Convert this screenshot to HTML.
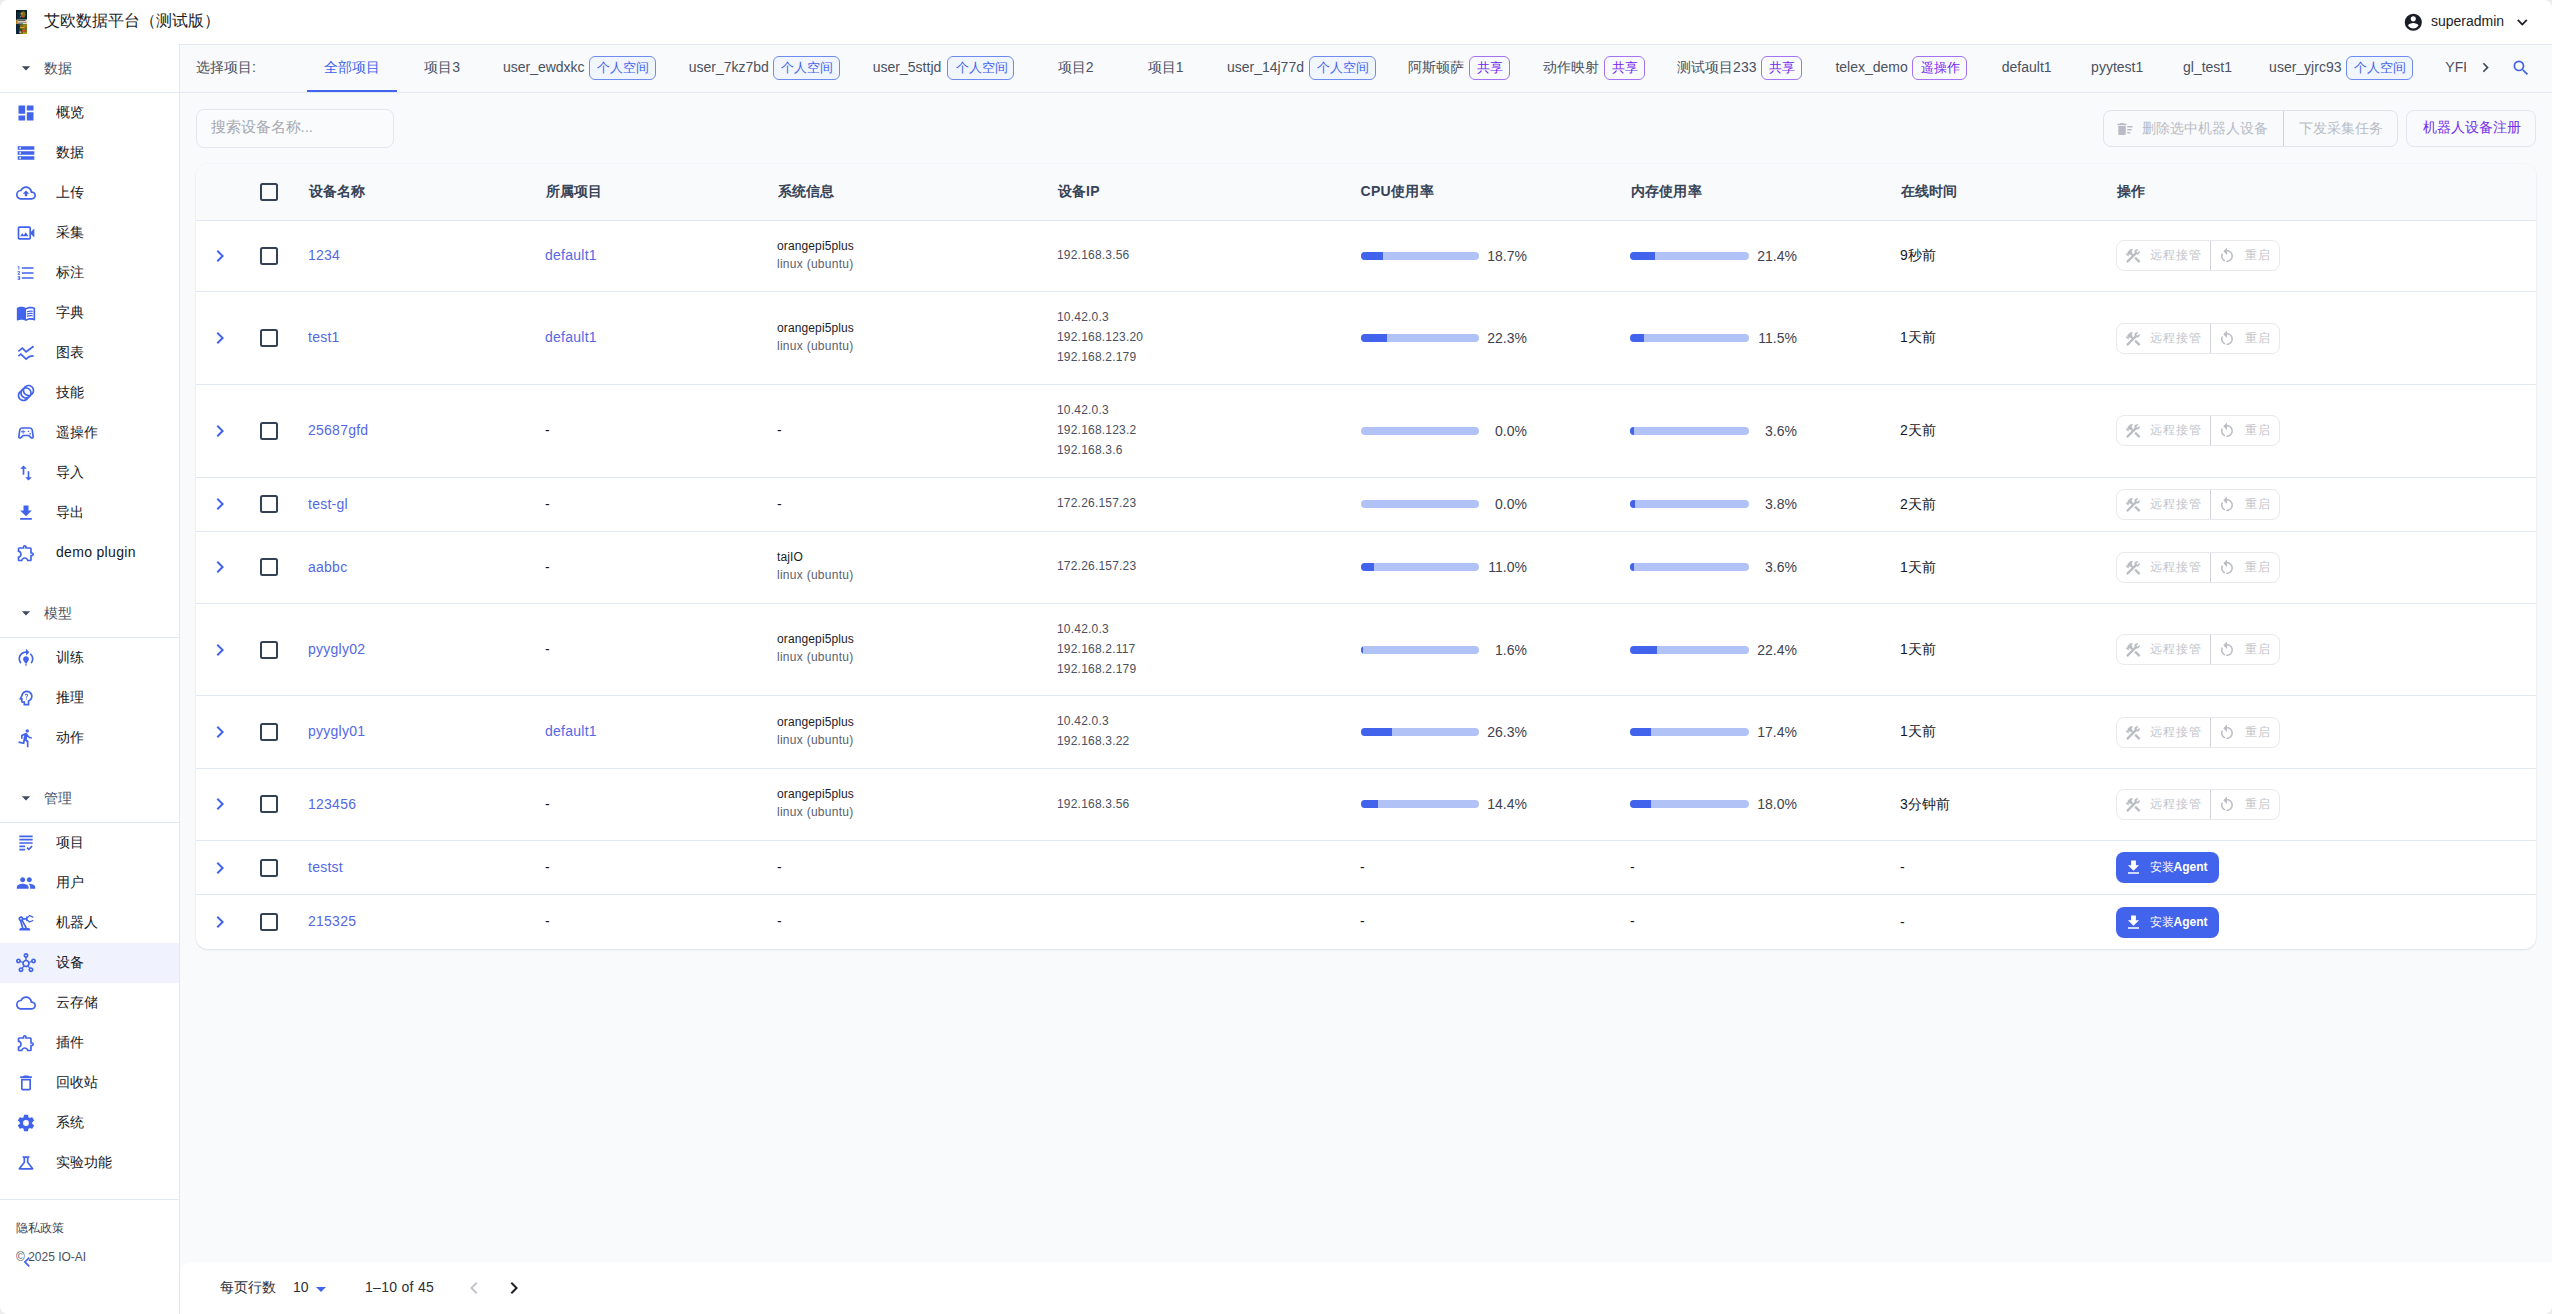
<!DOCTYPE html><html lang="zh"><head><meta charset="utf-8"><title>艾欧数据平台（测试版）</title><style>
*{box-sizing:border-box}
html,body{margin:0;padding:0}
html{width:2552px;height:1314px;overflow:hidden;background:#fff}
body{width:2552px;height:1314px;overflow:hidden;position:relative;background:#fff;font-family:"Liberation Sans",sans-serif;font-size:14px;color:#141826;-webkit-font-smoothing:antialiased}
.ic{display:block;flex:none}
.abs{position:absolute}
#top{position:absolute;left:0;top:0;width:2552px;height:44px;background:#fff}
#title{position:absolute;left:44px;top:0;height:44px;line-height:42px;font-size:16px;color:#1b1d27;white-space:nowrap}
#user{position:absolute;left:2431px;top:0;line-height:42px;font-size:14px;color:#1b1d27}
#side{position:absolute;left:0;top:44px;width:180px;height:1270px;background:#fff;border-right:1px solid #e2e8f0}
.grp{position:absolute;left:0;width:179px;height:49px;border-bottom:1px solid #e2e8f0;color:#475367;font-size:14px}
.grp span{position:absolute;left:44px;top:0;line-height:49px}
.grp svg{position:absolute;left:16px;top:14px}
.it{position:absolute;left:0;width:179px;height:40px;font-size:14px;color:#141826}
.it span{position:absolute;left:56px;top:0;line-height:38px;white-space:nowrap}
.it svg{position:absolute;left:16px;top:10px}
.it.on{background:#f0f2fe}
#main{position:absolute;left:179px;top:44px;width:2373px;height:1270px;background:#f8fafc;border-left:1px solid #e2e8f0;border-top:1px solid #e2e8f0}
#tabs{position:absolute;left:180px;top:45px;width:2372px;height:48px;border-bottom:1px solid #e2e8f0;font-size:14px;color:#4b5160;white-space:nowrap}
.tab{position:absolute;top:-1px;height:47px;line-height:45px;display:flex;align-items:center}
.tab.on{color:#4263eb}
.chip{display:inline-block;height:24px;line-height:22px;border:1px solid #6e8cf0;border-radius:6px;padding:0 0 0 1.5px;text-align:center;white-space:nowrap;overflow:hidden;font-size:13px;line-height:21px;color:#4263eb;background:#f0f5fe}
.chip.v{border-color:#a373f1;color:#7527ee;background:transparent}
#search{position:absolute;left:196px;top:109px;width:198px;height:39px;border:1px solid #e1e6ef;border-radius:8px;background:#fafbfc;color:#a6aab4;font-size:15px;line-height:34px;padding-left:13.5px;white-space:nowrap}
.bgrp{position:absolute;display:flex;border:1px solid #e0e3ea;border-radius:8px;color:#b9bcc6;overflow:hidden;white-space:nowrap}
.bgrp>div{display:flex;align-items:center;height:100%}
.bgrp>div+div{border-left:1px solid #cfd2da}
#reg{position:absolute;left:2406px;top:110px;width:130px;height:37px;border:1px solid #e2e6f0;border-radius:8px;color:#7430ec;font-weight:500;font-size:14px;line-height:33px;text-align:center;white-space:nowrap;padding-left:1.5px}
#card{position:absolute;left:196px;top:164px;width:2340px;height:785px;background:#fff;border-radius:12px;box-shadow:0 1px 2px rgba(15,23,42,.10),0 0 0 1px rgba(15,23,42,.015);overflow:hidden}
#thead{position:absolute;left:0;top:0;width:2340px;height:57px;background:#f8fafc;border-bottom:1px solid #e2e8f0;font-weight:bold;font-size:14px;color:#374357}
#thead span{position:absolute;top:0;line-height:54px;white-space:nowrap;letter-spacing:.3px}
.row{position:absolute;left:0;width:2340px;border-bottom:1px solid #e2e8f0;font-size:14px}
.row:last-child{border-bottom:none}
.cell{position:absolute;top:0;height:100%;display:flex;flex-direction:column;justify-content:center;white-space:nowrap;padding-bottom:2px}
.row.last .cell{padding-bottom:4px}
.cb{position:absolute;width:18px;height:18px;border:2px solid #334155;border-radius:2.5px;background:transparent}
.lnk{color:#5468e6;letter-spacing:.25px}
.sm{letter-spacing:.12px;font-size:12px;line-height:18px;color:#1b1d27}
.sm2{letter-spacing:.27px;font-size:12px;line-height:19px;color:#5a5f6c}
.ip{letter-spacing:.2px;font-size:12px;line-height:20px;color:#4b5060}
.bar{position:absolute;height:8px;width:119px;border-radius:4px;background:#b1c2f6;overflow:hidden}
.bar i{display:block;height:8px;background:#4263eb}
.pct{position:absolute;text-align:right;font-size:14px;color:#3d4251}
.inst{position:absolute;left:1920px;width:103px;height:31px;border-radius:8px;background:#4263eb;color:#fff;font-weight:bold;font-size:12px;display:flex;align-items:center;white-space:nowrap}
#foot{position:absolute;left:180px;top:1262px;width:2372px;height:52px;background:#fff;border-top-left-radius:12px;font-size:14px;color:#2c2f3a}
#frame{position:absolute;left:0;top:0;width:2552px;height:1314px;border-radius:8px;box-shadow:0 0 0 14px #ececec;pointer-events:none;z-index:50}
#foot span{position:absolute;top:0;line-height:51px;white-space:nowrap}
</style></head><body>
<div id="top">
<div class="abs" style="left:16px;top:10px;width:11px;height:24px;overflow:hidden;background:#08222f"><svg style="display:block;filter:blur(.45px)" width="11" height="24" viewBox="0 0 11 24"><rect width="11" height="24" fill="#08222f"/><g><rect x="-1" y="-1" width="4" height="10" fill="#06141c"/><rect x="1" y="2" width="3" height="7" fill="#0b2c45"/><ellipse cx="7.1" cy="4.4" rx="2.5" ry="3.1" fill="#7a6d1e"/><rect x="4.7" y="2.9" width="2" height="1.3" fill="#e89a28"/><rect x="6" y="5.8" width="1.3" height="1.4" fill="#e2381f"/><rect x="4.2" y="6" width=".8" height="1.6" fill="#7a9aa0"/><rect x="1.3" y="9.5" width="10" height="4.7" fill="#e6dabd"/><rect x="-.2" y="9.7" width="1.5" height="4.5" fill="#b07a20"/><rect x="2" y="10" width="7.5" height=".9" fill="#47545a"/><rect x="2.4" y="11.9" width="8" height=".7" fill="#6d7573"/><rect x="2" y="13.2" width="5" height=".7" fill="#59656a"/><rect x="-1" y="14.3" width="4.8" height="10.5" fill="#0a2638"/><rect x="3.8" y="14.4" width="8" height="10.5" fill="#7c6e18"/><rect x="7" y="14.3" width="4.5" height="2.4" fill="#94861e"/><rect x="4" y="17" width="4.6" height="1.1" fill="#f09a28"/><rect x="3" y="18.6" width="3.4" height="3" fill="#3a4a2a"/><rect x="6.4" y="20" width="2.2" height="2" fill="#e8402e"/><rect x="3.5" y="21.4" width="1.2" height="1.5" fill="#e8e8de"/><rect x="7" y="22.3" width="4.5" height="2" fill="#b39c20"/></g></svg></div>
<div id="title">艾欧数据平台（测试版）</div>
<svg class="ic" viewBox="0 0 24 24" width="20.57" height="20.57" style="position:absolute;left:2402.5px;top:12px"><path fill="#1b1d27" d="M12 19.2c-2.5 0-4.71-1.28-6-3.2.03-2 4-3.1 6-3.1s5.97 1.1 6 3.1a7.23 7.23 0 0 1-6 3.2M12 5a3 3 0 0 1 3 3 3 3 0 0 1-3 3 3 3 0 0 1-3-3 3 3 0 0 1 3-3m0-3A10 10 0 0 0 2 12a10 10 0 0 0 10 10 10 10 0 0 0 10-10c0-5.53-4.5-10-10-10"/></svg>
<div id="user">superadmin</div>
<svg class="ic" viewBox="0 0 24 24" width="20.57" height="20.57" style="position:absolute;left:2511.7px;top:11.6px"><path fill="#1b1d27" d="M7.41 8.58 12 13.17l4.59-4.59L18 10l-6 6-6-6z"/></svg>
</div>
<div id="side">
<div class="grp" style="top:0px"><svg class="ic" viewBox="0 0 24 24" width="20" height="20" style=""><path fill="#3f4b5f" d="m7 10 5 5 5-5z"/></svg><span>数据</span></div>
<div class="it" style="top:49px"><svg class="ic" viewBox="0 0 24 24" width="20" height="20" style=""><path fill="#4263eb" d="M13 3v6h8V3m-8 18h8V11h-8M3 21h8v-6H3m0-2h8V3H3z"/></svg><span>概览</span></div>
<div class="it" style="top:89px"><svg class="ic" viewBox="0 0 24 24" width="20" height="20" style=""><path fill="#4263eb" d="M2 20h20v-4H2v4zm2-3h2v2H4v-2zM2 4v4h20V4H2zm4 3H4V5h2v2zm-4 7h20v-4H2v4zm2-3h2v2H4v-2z"/></svg><span>数据</span></div>
<div class="it" style="top:129px"><svg class="ic" viewBox="0 0 24 24" width="20" height="20" style=""><path fill="#4263eb" d="M19.35 10.04C18.67 6.59 15.64 4 12 4 9.11 4 6.6 5.64 5.35 8.04 2.34 8.36 0 10.91 0 14c0 3.31 2.69 6 6 6h13c2.76 0 5-2.24 5-5 0-2.64-2.05-4.78-4.65-4.96zM19 18H6c-2.21 0-4-1.79-4-4 0-2.05 1.53-3.76 3.56-3.97l1.07-.11.5-.95C8.08 7.14 9.94 6 12 6c2.62 0 4.88 1.86 5.39 4.43l.3 1.5 1.53.11c1.56.1 2.78 1.41 2.78 2.96 0 1.65-1.35 3-3 3zM8 13h2.55v3h2.9v-3H16l-4-4z"/></svg><span>上传</span></div>
<div class="it" style="top:169px"><svg class="ic" viewBox="0 0 24 24" width="20" height="20" style=""><path fill="#4263eb" d="M18 10.48V6c0-1.1-.9-2-2-2H4c-1.1 0-2 .9-2 2v12c0 1.1.9 2 2 2h12c1.1 0 2-.9 2-2v-4.48l4 3.98v-11l-4 3.98zM16 9.69V18H4V6h12v3.69zM11.67 11l-2.5 3.72L7.5 12 5 16h10l-3.33-5z"/></svg><span>采集</span></div>
<div class="it" style="top:209px"><svg class="ic" viewBox="0 0 24 24" width="20" height="20" style=""><path fill="#4263eb" d="M7 13v-2h14v2zm0 6v-2h14v2zM7 7V5h14v2zM3 8V5H2V4h2v4zm-1 9v-1h3v4H2v-1h2v-.5H3v-1h1V17zm2.25-7a.75.75 0 0 1 .75.75c0 .2-.08.39-.21.52L3.12 13H5v1H2v-.92L4 11H2v-1z"/></svg><span>标注</span></div>
<div class="it" style="top:249px"><svg class="ic" viewBox="0 0 24 24" width="20" height="20" style=""><path fill="#4263eb" d="M12 21.5c-1.35-.85-3.8-1.5-5.5-1.5-1.65 0-3.35.3-4.75 1.05-.1.05-.15.05-.25.05-.25 0-.5-.25-.5-.5V6c.6-.45 1.25-.75 2-1 1.11-.35 2.33-.5 3.5-.5 1.95 0 4.05.4 5.5 1.5 1.45-1.1 3.55-1.5 5.5-1.5 1.17 0 2.39.15 3.5.5.75.25 1.4.55 2 1v14.6c0 .25-.25.5-.5.5-.1 0-.15 0-.25-.05-1.4-.75-3.1-1.05-4.75-1.05-1.7 0-4.15.65-5.5 1.5M12 8v11.5c1.35-.85 3.8-1.5 5.5-1.5 1.2 0 2.4.15 3.5.5V7c-1.1-.35-2.3-.5-3.5-.5-1.7 0-4.15.65-5.5 1.5m1 3.5c1.11-.68 2.6-1 4.5-1 .91 0 1.76.09 2.5.28V9.23c-.87-.15-1.71-.23-2.5-.23q-2.655 0-4.5.84zm4.5.17c-1.71 0-3.21.26-4.5.79v1.69c1.11-.65 2.6-.99 4.5-.99 1.04 0 1.88.08 2.5.24v-1.5c-.87-.16-1.71-.23-2.5-.23m2.5 2.9c-.87-.16-1.71-.24-2.5-.24-1.83 0-3.33.27-4.5.8v1.69c1.11-.66 2.6-.99 4.5-.99 1.04 0 1.88.08 2.5.24z"/></svg><span>字典</span></div>
<div class="it" style="top:289px"><svg class="ic" viewBox="0 0 20 20" width="20" height="20"><g fill="none" stroke="#4263eb" stroke-width="1.7" stroke-linejoin="miter"><path d="M2.3 8.3 L6.4 5.1 L10.1 8.8 L17.6 3.2"/><path d="M2.3 13.2 L4.9 11.2 L10.1 16.1 Q13.5 13.1 15 13.1 L17.6 13.1"/></g></svg><span>图表</span></div>
<div class="it" style="top:329px"><svg class="ic" viewBox="0 0 24 24" width="20" height="20" style=""><path fill="#4263eb" d="M15 2c-2.71 0-5.05 1.54-6.22 3.78-1.28.67-2.34 1.72-3 3C3.54 9.95 2 12.29 2 15c0 3.87 3.13 7 7 7 2.71 0 5.05-1.54 6.22-3.78 1.28-.67 2.34-1.72 3-3C20.46 14.05 22 11.71 22 9c0-3.87-3.13-7-7-7zM9 20c-2.76 0-5-2.24-5-5 0-1.12.37-2.16 1-3 0 3.87 3.13 7 7 7-.84.63-1.88 1-3 1zm3-3c-2.76 0-5-2.24-5-5 0-1.12.37-2.16 1-3 0 3.86 3.13 6.99 7 7-.84.63-1.88 1-3 1zm4.7-3.3c-.53.19-1.1.3-1.7.3-2.76 0-5-2.24-5-5 0-.6.11-1.17.3-1.7.53-.19 1.1-.3 1.7-.3 2.76 0 5 2.24 5 5 0 .6-.11 1.17-.3 1.7zM19 12c0-3.86-3.13-6.99-7-7 .84-.63 1.87-1 3-1 2.76 0 5 2.24 5 5 0 1.12-.37 2.16-1 3z"/></svg><span>技能</span></div>
<div class="it" style="top:369px"><svg class="ic" viewBox="0 0 24 24" width="20" height="20" style=""><path fill="#4263eb" d="M21.58 16.09l-1.09-7.66C20.21 6.46 18.52 5 16.53 5H7.47C5.48 5 3.79 6.46 3.51 8.43l-1.09 7.66C2.2 17.63 3.39 19 4.94 19c.68 0 1.32-.27 1.8-.75L9 16h6l2.25 2.25c.48.48 1.13.75 1.8.75 1.56 0 2.75-1.37 2.53-2.91zm-2.1.72c-.08.09-.21.19-.42.19-.15 0-.29-.06-.39-.16L15.83 14H8.17l-2.84 2.84c-.1.1-.24.16-.39.16-.21 0-.34-.1-.42-.19-.08-.09-.16-.23-.13-.44l1.09-7.66C5.63 7.74 6.48 7 7.47 7h9.06c.99 0 1.84.74 1.98 1.72l1.09 7.66c.03.2-.05.34-.12.43zM9 8H8v2H6v1h2v2h1v-2h2v-1H9zM17 12a1 1 0 1 0 0 2 1 1 0 0 0 0-2zM15 9a1 1 0 1 0 0 2 1 1 0 0 0 0-2z"/></svg><span>遥操作</span></div>
<div class="it" style="top:409px"><svg class="ic" viewBox="0 0 24 24" width="20" height="20" style=""><path fill="#4263eb" d="M9 3 5 7h3v7h2V7h3m3 10v-7h-2v7h-3l4 4 4-4z"/></svg><span>导入</span></div>
<div class="it" style="top:449px"><svg class="ic" viewBox="0 0 24 24" width="20" height="20" style=""><path fill="#4263eb" d="M5 20h14v-2H5m14-9h-4V3H9v6H5l7 7z"/></svg><span>导出</span></div>
<div class="it" style="top:489px"><svg class="ic" viewBox="0 0 24 24" width="20" height="20" style=""><path fill="#4263eb" d="M10.5 4.5c.28 0 .5.22.5.5v2h6v6h2c.28 0 .5.22.5.5s-.22.5-.5.5h-2v6h-2.12c-.68-1.75-2.39-3-4.38-3s-3.7 1.25-4.38 3H4v-2.12c1.75-.68 3-2.39 3-4.38 0-1.99-1.24-3.7-2.99-4.38L4 7h6V5c0-.28.22-.5.5-.5m0-2C9.12 2.5 8 3.62 8 5H4c-1.1 0-1.99.9-1.99 2v3.8h.29c1.49 0 2.7 1.21 2.7 2.7s-1.21 2.7-2.7 2.7H2V20c0 1.1.9 2 2 2h3.8v-.3c0-1.49 1.21-2.7 2.7-2.7s2.7 1.21 2.7 2.7v.3H17c1.1 0 2-.9 2-2v-4c1.38 0 2.5-1.12 2.5-2.5S20.38 11 19 11V7c0-1.1-.9-2-2-2h-4c0-1.38-1.12-2.5-2.5-2.5z"/></svg><span><i style="font-style:normal;letter-spacing:.32px">demo plugin</i></span></div>
<div class="grp" style="top:545px"><svg class="ic" viewBox="0 0 24 24" width="20" height="20" style=""><path fill="#3f4b5f" d="m7 10 5 5 5-5z"/></svg><span>模型</span></div>
<div class="it" style="top:594px"><svg class="ic" viewBox="0 0 24 24" width="20" height="20" style=""><path fill="#4263eb" d="M15.5 13.5c0 2-2.5 3.5-2.5 5h-2c0-1.5-2.5-3-2.5-5 0-1.93 1.57-3.5 3.5-3.5s3.5 1.57 3.5 3.5zM13 19.5h-2V21h2v-1.5zM19 13c0 1.68-.59 3.21-1.58 4.42l1.42 1.42C20.18 17.27 21 15.23 21 13c0-2.74-1.23-5.19-3.16-6.84l-1.42 1.42C17.99 8.86 19 10.82 19 13zM16 5l-4-4v3c-4.97 0-9 4.03-9 9 0 2.23.82 4.27 2.16 5.84l1.42-1.42C5.59 16.21 5 14.68 5 13c0-3.86 3.14-7 7-7v3l4-4z"/></svg><span>训练</span></div>
<div class="it" style="top:634px"><svg class="ic" viewBox="0 0 24 24" width="20" height="20" style=""><path fill="#4263eb" d="M19.94 9.06C19.5 5.73 16.57 3 13 3 9.47 3 6.57 5.61 6.08 9l-1.93 3.48c-.41.66.07 1.52.85 1.52h1v2c0 1.1.9 2 2 2h1v3h7v-4.68c2.62-1.25 4.35-4.08 3.94-7.26zm-5.05 5.57l-.89.42V19h-3v-3H8v-4H6.7l1.33-2.33C8.21 7.06 10.35 5 13 5c2.76 0 5 2.24 5 5 0 2.09-1.29 3.88-3.11 4.63zM12.5 12.54c-.41 0-.74.31-.74.73 0 .41.33.74.74.74.42 0 .73-.33.73-.74 0-.42-.31-.73-.73-.73zM12.5 7c-1.03 0-1.74.67-2 1.45l.96.4c.13-.39.43-.86 1.05-.86.95 0 1.13.89.8 1.36-.32.45-.86.75-1.14 1.26-.23.4-.18.87-.18 1.16h1.06c0-.55.04-.65.13-.82.23-.42.65-.62 1.09-1.27.4-.59.25-1.38-.01-1.8-.31-.49-.9-.88-1.76-.88z"/></svg><span>推理</span></div>
<div class="it" style="top:674px"><svg class="ic" viewBox="0 0 24 24" width="20" height="20" style=""><path fill="#4263eb" d="M13.5 5.5c1.09 0 2-.92 2-2a2 2 0 0 0-2-2c-1.11 0-2 .88-2 2 0 1.08.89 2 2 2M9.89 19.38l1-4.38L13 17v6h2v-7.5l-2.11-2 .61-3A7.3 7.3 0 0 0 19 13v-2c-1.91 0-3.5-1-4.31-2.42l-1-1.58c-.4-.62-1-1-1.69-1-.31 0-.5.08-.81.08L6 8.28V13h2V9.58l1.79-.7L8.19 17l-4.9-1-.4 2z"/></svg><span>动作</span></div>
<div class="grp" style="top:730px"><svg class="ic" viewBox="0 0 24 24" width="20" height="20" style=""><path fill="#3f4b5f" d="m7 10 5 5 5-5z"/></svg><span>管理</span></div>
<div class="it" style="top:779px"><svg class="ic" viewBox="0 0 24 24" width="20" height="20" style=""><path fill="#4263eb" d="M4 7h16v2H4V7zm0 6h16v-2H4v2zm0 4h7v-2H4v2zm0 4h7v-2H4v2zm11.41-2.83L14 16.75l-1.41 1.41L15.41 21 20 16.42 18.58 15l-3.17 3.17zM4 3v2h16V3H4z"/></svg><span>项目</span></div>
<div class="it" style="top:819px"><svg class="ic" viewBox="0 0 24 24" width="20" height="20" style=""><path fill="#4263eb" d="M16 11c1.66 0 2.99-1.34 2.99-3S17.66 5 16 5c-1.66 0-3 1.34-3 3s1.34 3 3 3zm-8 0c1.66 0 2.99-1.34 2.99-3S9.66 5 8 5C6.34 5 5 6.34 5 8s1.34 3 3 3zm0 2c-2.33 0-7 1.17-7 3.5V19h14v-2.5c0-2.33-4.67-3.5-7-3.5zm8 0c-.29 0-.62.02-.97.05 1.16.84 1.97 1.97 1.97 3.45V19h6v-2.5c0-2.33-4.67-3.5-7-3.5z"/></svg><span>用户</span></div>
<div class="it" style="top:859px"><svg class="ic" viewBox="0 0 24 24" width="20" height="20" style=""><path fill="#4263eb" d="M19.93 8.35l-3.6 1.68L14 7.7V6.3l2.33-2.33 3.6 1.68c.38.18.82.01 1-.36.18-.38.01-.82-.36-1l-3.92-1.83c-.38-.18-.83-.1-1.13.2L13.78 4.4c-.18-.24-.46-.4-.78-.4-.55 0-1 .45-1 1v1H8.82C8.4 4.84 7.3 4 6 4 4.34 4 3 5.34 3 7c0 1.1.6 2.05 1.48 2.58L7.08 18H6c-1.1 0-2 .9-2 2v1h13v-1c0-1.1-.9-2-2-2h-1.62L8.41 8.77c.17-.24.31-.49.41-.77H12v1c0 .55.45 1 1 1 .32 0 .6-.16.78-.4l1.74 1.74c.3.3.75.38 1.13.2l3.92-1.83c.38-.18.54-.62.36-1-.18-.37-.62-.54-1-.36zM6 8c-.55 0-1-.45-1-1s.45-1 1-1 1 .45 1 1-.45 1-1 1zm5.11 10H9.17l-2.46-8h.1l4.3 8z"/></svg><span>机器人</span></div>
<div class="it on" style="top:899px"><svg class="ic" viewBox="0 0 24 24" width="20" height="20" style=""><path fill="#4263eb" d="M21 6.5c-1.7 0-3 1.3-3 3v.2l-2 .7c-.6-1.2-1.8-2.1-3.2-2.3V5.9C14 5.6 15 4.4 15 3c0-1.7-1.3-3-3-3S9 1.3 9 3c0 1.4 1 2.6 2.2 2.9v2.2c-1.3.2-2.5 1.1-3.2 2.3l-2-.7v-.2c0-1.7-1.3-3-3-3s-3 1.3-3 3 1.3 3 3 3c1.1 0 2-.6 2.5-1.4l2 .7c-.2 1.3.2 2.7 1.1 3.7l-1.4 1.8Q6.6 17 6 17c-1.7 0-3 1.3-3 3s1.3 3 3 3 3-1.3 3-3q0-1.05-.6-1.8l1.4-1.8c1.4.8 3 .8 4.4 0l1.4 1.8q-.6.75-.6 1.8c0 1.7 1.3 3 3 3s3-1.3 3-3-1.3-3-3-3c-.4 0-.9.1-1.2.3l-1.4-1.8c.9-1 1.3-2.4 1.1-3.7l2-.7c.5.8 1.5 1.4 2.5 1.4 1.7 0 3-1.3 3-3s-1.3-3-3-3m-18 4c-.5 0-1-.4-1-1s.5-1 1-1 1 .4 1 1-.5 1-1 1M6 21c-.6 0-1-.5-1-1s.4-1 1-1 1 .5 1 1-.4 1-1 1m5-18c0-.5.4-1 1-1s1 .5 1 1-.4 1-1 1-1-.5-1-1m1 12c-1.4 0-2.5-1.1-2.5-2.5S10.6 10 12 10s2.5 1.1 2.5 2.5S13.4 15 12 15m6 4c.5 0 1 .5 1 1s-.5 1-1 1-1-.5-1-1 .5-1 1-1m3-8.5c-.5 0-1-.4-1-1s.5-1 1-1 1 .4 1 1-.5 1-1 1"/></svg><span>设备</span></div>
<div class="it" style="top:939px"><svg class="ic" viewBox="0 0 24 24" width="20" height="20" style=""><path fill="#4263eb" d="M12 6c2.62 0 4.88 1.86 5.39 4.43l.3 1.5 1.53.11c1.56.1 2.78 1.41 2.78 2.96 0 1.65-1.35 3-3 3H6c-2.21 0-4-1.79-4-4 0-2.05 1.53-3.76 3.56-3.97l1.07-.11.5-.95C8.08 7.14 9.94 6 12 6m0-2C9.11 4 6.6 5.64 5.35 8.04 2.34 8.36 0 10.91 0 14c0 3.31 2.69 6 6 6h13c2.76 0 5-2.24 5-5 0-2.64-2.05-4.78-4.65-4.96C18.67 6.59 15.64 4 12 4z"/></svg><span>云存储</span></div>
<div class="it" style="top:979px"><svg class="ic" viewBox="0 0 24 24" width="20" height="20" style=""><path fill="#4263eb" d="M10.5 4.5c.28 0 .5.22.5.5v2h6v6h2c.28 0 .5.22.5.5s-.22.5-.5.5h-2v6h-2.12c-.68-1.75-2.39-3-4.38-3s-3.7 1.25-4.38 3H4v-2.12c1.75-.68 3-2.39 3-4.38 0-1.99-1.24-3.7-2.99-4.38L4 7h6V5c0-.28.22-.5.5-.5m0-2C9.12 2.5 8 3.62 8 5H4c-1.1 0-1.99.9-1.99 2v3.8h.29c1.49 0 2.7 1.21 2.7 2.7s-1.21 2.7-2.7 2.7H2V20c0 1.1.9 2 2 2h3.8v-.3c0-1.49 1.21-2.7 2.7-2.7s2.7 1.21 2.7 2.7v.3H17c1.1 0 2-.9 2-2v-4c1.38 0 2.5-1.12 2.5-2.5S20.38 11 19 11V7c0-1.1-.9-2-2-2h-4c0-1.38-1.12-2.5-2.5-2.5z"/></svg><span>插件</span></div>
<div class="it" style="top:1019px"><svg class="ic" viewBox="0 0 24 24" width="20" height="20" style=""><path fill="#4263eb" d="M6 19a2 2 0 0 0 2 2h8a2 2 0 0 0 2-2V7H6zM8 9h8v10H8zm7.5-5-1-1h-5l-1 1H5v2h14V4z"/></svg><span>回收站</span></div>
<div class="it" style="top:1059px"><svg class="ic" viewBox="0 0 24 24" width="20" height="20" style=""><path fill="#4263eb" d="M12 15.5A3.5 3.5 0 0 1 8.5 12 3.5 3.5 0 0 1 12 8.5a3.5 3.5 0 0 1 3.5 3.5 3.5 3.5 0 0 1-3.5 3.5m7.43-2.53c.04-.32.07-.64.07-.97s-.03-.66-.07-1l2.11-1.63c.19-.15.24-.42.12-.64l-2-3.46c-.12-.22-.39-.31-.61-.22l-2.49 1c-.52-.39-1.06-.73-1.69-.98l-.37-2.65A.506.506 0 0 0 14 2h-4c-.25 0-.46.18-.5.42l-.37 2.65c-.63.25-1.17.59-1.69.98l-2.49-1c-.22-.09-.49 0-.61.22l-2 3.46c-.13.22-.07.49.12.64L4.57 11c-.04.34-.07.67-.07 1s.03.65.07.97l-2.11 1.66c-.19.15-.25.42-.12.64l2 3.46c.12.22.39.3.61.22l2.49-1.01c.52.4 1.06.74 1.69.99l.37 2.65c.04.24.25.42.5.42h4c.25 0 .46-.18.5-.42l.37-2.65c.63-.26 1.17-.59 1.69-.99l2.49 1.01c.22.08.49 0 .61-.22l2-3.46c.12-.22.07-.49-.12-.64z"/></svg><span>系统</span></div>
<div class="it" style="top:1099px"><svg class="ic" viewBox="0 0 24 24" width="20" height="20" style=""><path fill="#4263eb" d="M13 11.33L18 18H6l5-6.67V6h2m2.96-2H8.04c-.42 0-.65.48-.39.81L9 6.5v4.17L3.2 18.4c-.49.66-.02 1.6.8 1.6h16c.82 0 1.29-.94.8-1.6L15 10.67V6.5l1.35-1.69c.26-.33.03-.81-.39-.81z"/></svg><span>实验功能</span></div>
<div class="abs" style="left:0;top:1155px;width:179px;height:1px;background:#e2e8f0"></div>
<div class="abs" style="left:16px;top:1177px;font-size:12px;color:#3d4251;line-height:14px">隐私政策</div>
<div class="abs" style="left:16px;top:1206px;font-size:12px;color:#4b5060;line-height:14px;white-space:nowrap">© 2025 IO-AI</div>
<svg class="ic" viewBox="0 0 24 24" width="20" height="20" style="position:absolute;left:17px;top:1208px"><path fill="#4263eb" d="M15.41 16.58 10.83 12l4.58-4.59L14 6l-6 6 6 6z"/></svg>
</div>
<div id="main"></div>
<div id="tabs">
<div class="tab" style="left:16px">选择项目:</div>
<div class="tab on" style="left:127px;width:90px;justify-content:center;border-bottom:2px solid #4263eb;height:48px"><span>全部项目</span></div>
<div class="tab" style="left:244.2px">项目3</div>
<div class="tab" style="left:322.9px">user_ewdxkc</div>
<div class="tab" style="left:409px"><span class="chip" style="width:67px">个人空间</span></div>
<div class="tab" style="left:508.7px">user_7kz7bd</div>
<div class="tab" style="left:593.2px"><span class="chip" style="width:67px">个人空间</span></div>
<div class="tab" style="left:692.8px">user_5sttjd</div>
<div class="tab" style="left:767.3px"><span class="chip" style="width:67px">个人空间</span></div>
<div class="tab" style="left:877.8px">项目2</div>
<div class="tab" style="left:967.8px">项目1</div>
<div class="tab" style="left:1046.9px">user_14j77d</div>
<div class="tab" style="left:1128.5px"><span class="chip" style="width:67px">个人空间</span></div>
<div class="tab" style="left:1228.1px">阿斯顿萨</div>
<div class="tab" style="left:1289.2px"><span class="chip v" style="width:41px">共享</span></div>
<div class="tab" style="left:1363.1px">动作映射</div>
<div class="tab" style="left:1423.5px"><span class="chip v" style="width:41px">共享</span></div>
<div class="tab" style="left:1497.1px">测试项目233</div>
<div class="tab" style="left:1581.2px"><span class="chip v" style="width:41px">共享</span></div>
<div class="tab" style="left:1655.4px">telex_demo</div>
<div class="tab" style="left:1732px"><span class="chip v" style="width:54.5px">遥操作</span></div>
<div class="tab" style="left:1821.8px">default1</div>
<div class="tab" style="left:1911.1px">pyytest1</div>
<div class="tab" style="left:2003px">gl_test1</div>
<div class="tab" style="left:2089.1px">user_yjrc93</div>
<div class="tab" style="left:2166px"><span class="chip" style="width:67px">个人空间</span></div>
<div class="tab" style="left:2265.3px;width:20.7px;overflow:hidden">YFK</div>
<svg class="ic" viewBox="0 0 24 24" width="19" height="19" style="position:absolute;left:2296.3px;top:13.3px"><path fill="#3d4454" d="M8.59 16.58 13.17 12 8.59 7.41 10 6l6 6-6 6z"/></svg>
<svg class="ic" viewBox="0 0 24 24" width="20" height="20" style="position:absolute;left:2330.5px;top:13px"><path fill="#4263eb" d="M9.5 3A6.5 6.5 0 0 1 16 9.5c0 1.61-.59 3.09-1.56 4.23l.27.27h.79l5 5-1.5 1.5-5-5v-.79l-.27-.27A6.52 6.52 0 0 1 9.5 16 6.5 6.5 0 0 1 3 9.5 6.5 6.5 0 0 1 9.5 3m0 2C7 5 5 7 5 9.5S7 14 9.5 14 14 12 14 9.5 12 5 9.5 5"/></svg>
</div>
<div id="search">搜索设备名称...</div>
<div class="bgrp" style="left:2103px;top:110px;width:295px;height:37px;font-size:14px"><div style="width:179px;padding-left:12px"><svg class="ic" viewBox="0 0 24 24" width="18" height="18" style=""><path fill="#b9bcc6" d="M15 16h4v2h-4zm0-8h7v2h-7zm0 4h6v2h-6zM3 18a2 2 0 0 0 2 2h6a2 2 0 0 0 2-2V8H3zM14 5h-3l-1-1H6L5 5H2v2h12z"/></svg><span style="margin-left:8px">删除选中机器人设备</span></div><div style="padding-left:15px;flex:1">下发采集任务</div></div>
<div id="reg">机器人设备注册</div>
<div id="card">
<div id="thead"><div class="cb" style="left:64px;top:19px"></div>
<span style="left:112.5px">设备名称</span>
<span style="left:349.5px">所属项目</span>
<span style="left:581.5px">系统信息</span>
<span style="left:861.5px">设备IP</span>
<span style="left:1164.5px">CPU使用率</span>
<span style="left:1434.5px">内存使用率</span>
<span style="left:1704.5px">在线时间</span>
<span style="left:1920.5px">操作</span>
</div>
<div class="row" style="top:57px;height:71px">
<svg class="ic" viewBox="0 0 24 24" width="24" height="24" style="position:absolute;left:12px;top:23px"><path fill="#4263eb" d="M8.59 16.58 13.17 12 8.59 7.41 10 6l6 6-6 6z"/></svg>
<div class="cb" style="left:64px;top:26px"></div>
<div class="cell lnk" style="left:112px">1234</div>
<div class="cell lnk" style="left:349px">default1</div>
<div class="cell" style="left:581px"><div class="sm">orangepi5plus</div><div class="sm2">linux (ubuntu)</div></div>
<div class="abs" style="left:861px;top:24px;white-space:nowrap"><div class="ip">192.168.3.56</div></div>
<div class="bar" style="left:1165px;width:118px;top:31px"><i style="width:18.7%"></i></div>
<div class="pct" style="left:1283px;width:48px;top:27px;line-height:16px">18.7%</div>
<div class="bar" style="left:1434px;width:119px;top:31px"><i style="width:21.4%"></i></div>
<div class="pct" style="left:1553px;width:48px;top:27px;line-height:16px">21.4%</div>
<div class="cell" style="left:1704px;padding-bottom:0px">9秒前</div>
<div class="bgrp" style="left:1920px;top:19px;width:164px;height:31px;font-size:12px;letter-spacing:1.07px;background:#fff;color:#c3c5cb;border-color:#e7e9ee"><div style="width:93px;padding-left:7px"><svg class="ic" viewBox="0 0 24 24" width="18" height="18" style=""><path fill="#bbbdc4" d="m13.78 15.3 6 6 2.11-2.16-6-6zm3.72-5.2c-.39 0-.81-.05-1.14-.19L4.97 21.25l-2.11-2.11 7.41-7.4L8.5 9.96l-.72.7-1.45-1.41v2.86l-.7.7-3.52-3.56.7-.7h2.81l-1.4-1.41 3.56-3.56a2.976 2.976 0 0 1 4.22 0L9.89 5.74l1.41 1.4-.71.71 1.79 1.78 1.82-1.88c-.14-.33-.2-.75-.2-1.12a3.49 3.49 0 0 1 3.5-3.52c.59 0 1.11.14 1.58.42L16.41 6.2l1.5 1.5 2.67-2.67c.28.47.42.97.42 1.6 0 1.92-1.55 3.47-3.5 3.47"/></svg><span style="margin-left:8px">远程接管</span></div><div style="padding-left:7px;flex:1"><svg class="ic" viewBox="0 0 24 24" width="18" height="18" style=""><path fill="#bbbdc4" d="M12 4c2.1 0 4.1.8 5.6 2.3 3.1 3.1 3.1 8.2 0 11.3-1.8 1.9-4.3 2.6-6.7 2.3l.5-2c1.7.2 3.5-.4 4.8-1.7 2.3-2.3 2.3-6.1 0-8.5C15.1 6.6 13.5 6 12 6v4.6l-5-5 5-5zM6.3 17.6C3.7 15 3.3 11 5.1 7.9l1.5 1.5c-1.1 2.2-.7 5 1.2 6.8q.75.75 1.8 1.2l-.6 2q-1.5-.6-2.7-1.8"/></svg><span style="margin-left:9px">重启</span></div></div>
</div>
<div class="row" style="top:128px;height:93px">
<svg class="ic" viewBox="0 0 24 24" width="24" height="24" style="position:absolute;left:12px;top:34px"><path fill="#4263eb" d="M8.59 16.58 13.17 12 8.59 7.41 10 6l6 6-6 6z"/></svg>
<div class="cb" style="left:64px;top:37px"></div>
<div class="cell lnk" style="left:112px">test1</div>
<div class="cell lnk" style="left:349px">default1</div>
<div class="cell" style="left:581px"><div class="sm">orangepi5plus</div><div class="sm2">linux (ubuntu)</div></div>
<div class="abs" style="left:861px;top:15px;white-space:nowrap"><div class="ip">10.42.0.3</div><div class="ip">192.168.123.20</div><div class="ip">192.168.2.179</div></div>
<div class="bar" style="left:1165px;width:118px;top:42px"><i style="width:22.3%"></i></div>
<div class="pct" style="left:1283px;width:48px;top:38px;line-height:16px">22.3%</div>
<div class="bar" style="left:1434px;width:119px;top:42px"><i style="width:11.5%"></i></div>
<div class="pct" style="left:1553px;width:48px;top:38px;line-height:16px">11.5%</div>
<div class="cell" style="left:1704px;padding-bottom:0px">1天前</div>
<div class="bgrp" style="left:1920px;top:31px;width:164px;height:31px;font-size:12px;letter-spacing:1.07px;background:#fff;color:#c3c5cb;border-color:#e7e9ee"><div style="width:93px;padding-left:7px"><svg class="ic" viewBox="0 0 24 24" width="18" height="18" style=""><path fill="#bbbdc4" d="m13.78 15.3 6 6 2.11-2.16-6-6zm3.72-5.2c-.39 0-.81-.05-1.14-.19L4.97 21.25l-2.11-2.11 7.41-7.4L8.5 9.96l-.72.7-1.45-1.41v2.86l-.7.7-3.52-3.56.7-.7h2.81l-1.4-1.41 3.56-3.56a2.976 2.976 0 0 1 4.22 0L9.89 5.74l1.41 1.4-.71.71 1.79 1.78 1.82-1.88c-.14-.33-.2-.75-.2-1.12a3.49 3.49 0 0 1 3.5-3.52c.59 0 1.11.14 1.58.42L16.41 6.2l1.5 1.5 2.67-2.67c.28.47.42.97.42 1.6 0 1.92-1.55 3.47-3.5 3.47"/></svg><span style="margin-left:8px">远程接管</span></div><div style="padding-left:7px;flex:1"><svg class="ic" viewBox="0 0 24 24" width="18" height="18" style=""><path fill="#bbbdc4" d="M12 4c2.1 0 4.1.8 5.6 2.3 3.1 3.1 3.1 8.2 0 11.3-1.8 1.9-4.3 2.6-6.7 2.3l.5-2c1.7.2 3.5-.4 4.8-1.7 2.3-2.3 2.3-6.1 0-8.5C15.1 6.6 13.5 6 12 6v4.6l-5-5 5-5zM6.3 17.6C3.7 15 3.3 11 5.1 7.9l1.5 1.5c-1.1 2.2-.7 5 1.2 6.8q.75.75 1.8 1.2l-.6 2q-1.5-.6-2.7-1.8"/></svg><span style="margin-left:9px">重启</span></div></div>
</div>
<div class="row" style="top:221px;height:93px">
<svg class="ic" viewBox="0 0 24 24" width="24" height="24" style="position:absolute;left:12px;top:34px"><path fill="#4263eb" d="M8.59 16.58 13.17 12 8.59 7.41 10 6l6 6-6 6z"/></svg>
<div class="cb" style="left:64px;top:37px"></div>
<div class="cell lnk" style="left:112px">25687gfd</div>
<div class="cell" style="left:349px">-</div>
<div class="cell" style="left:581px">-</div>
<div class="abs" style="left:861px;top:15px;white-space:nowrap"><div class="ip">10.42.0.3</div><div class="ip">192.168.123.2</div><div class="ip">192.168.3.6</div></div>
<div class="bar" style="left:1165px;width:118px;top:42px"><i style="width:0.0%"></i></div>
<div class="pct" style="left:1283px;width:48px;top:38px;line-height:16px">0.0%</div>
<div class="bar" style="left:1434px;width:119px;top:42px"><i style="width:3.6%"></i></div>
<div class="pct" style="left:1553px;width:48px;top:38px;line-height:16px">3.6%</div>
<div class="cell" style="left:1704px;padding-bottom:0px">2天前</div>
<div class="bgrp" style="left:1920px;top:30px;width:164px;height:31px;font-size:12px;letter-spacing:1.07px;background:#fff;color:#c3c5cb;border-color:#e7e9ee"><div style="width:93px;padding-left:7px"><svg class="ic" viewBox="0 0 24 24" width="18" height="18" style=""><path fill="#bbbdc4" d="m13.78 15.3 6 6 2.11-2.16-6-6zm3.72-5.2c-.39 0-.81-.05-1.14-.19L4.97 21.25l-2.11-2.11 7.41-7.4L8.5 9.96l-.72.7-1.45-1.41v2.86l-.7.7-3.52-3.56.7-.7h2.81l-1.4-1.41 3.56-3.56a2.976 2.976 0 0 1 4.22 0L9.89 5.74l1.41 1.4-.71.71 1.79 1.78 1.82-1.88c-.14-.33-.2-.75-.2-1.12a3.49 3.49 0 0 1 3.5-3.52c.59 0 1.11.14 1.58.42L16.41 6.2l1.5 1.5 2.67-2.67c.28.47.42.97.42 1.6 0 1.92-1.55 3.47-3.5 3.47"/></svg><span style="margin-left:8px">远程接管</span></div><div style="padding-left:7px;flex:1"><svg class="ic" viewBox="0 0 24 24" width="18" height="18" style=""><path fill="#bbbdc4" d="M12 4c2.1 0 4.1.8 5.6 2.3 3.1 3.1 3.1 8.2 0 11.3-1.8 1.9-4.3 2.6-6.7 2.3l.5-2c1.7.2 3.5-.4 4.8-1.7 2.3-2.3 2.3-6.1 0-8.5C15.1 6.6 13.5 6 12 6v4.6l-5-5 5-5zM6.3 17.6C3.7 15 3.3 11 5.1 7.9l1.5 1.5c-1.1 2.2-.7 5 1.2 6.8q.75.75 1.8 1.2l-.6 2q-1.5-.6-2.7-1.8"/></svg><span style="margin-left:9px">重启</span></div></div>
</div>
<div class="row" style="top:314px;height:54px">
<svg class="ic" viewBox="0 0 24 24" width="24" height="24" style="position:absolute;left:12px;top:14px"><path fill="#4263eb" d="M8.59 16.58 13.17 12 8.59 7.41 10 6l6 6-6 6z"/></svg>
<div class="cb" style="left:64px;top:17px"></div>
<div class="cell lnk" style="left:112px">test-gl</div>
<div class="cell" style="left:349px">-</div>
<div class="cell" style="left:581px">-</div>
<div class="abs" style="left:861px;top:15px;white-space:nowrap"><div class="ip">172.26.157.23</div></div>
<div class="bar" style="left:1165px;width:118px;top:22px"><i style="width:0.0%"></i></div>
<div class="pct" style="left:1283px;width:48px;top:18px;line-height:16px">0.0%</div>
<div class="bar" style="left:1434px;width:119px;top:22px"><i style="width:3.8%"></i></div>
<div class="pct" style="left:1553px;width:48px;top:18px;line-height:16px">3.8%</div>
<div class="cell" style="left:1704px;padding-bottom:0px">2天前</div>
<div class="bgrp" style="left:1920px;top:11px;width:164px;height:31px;font-size:12px;letter-spacing:1.07px;background:#fff;color:#c3c5cb;border-color:#e7e9ee"><div style="width:93px;padding-left:7px"><svg class="ic" viewBox="0 0 24 24" width="18" height="18" style=""><path fill="#bbbdc4" d="m13.78 15.3 6 6 2.11-2.16-6-6zm3.72-5.2c-.39 0-.81-.05-1.14-.19L4.97 21.25l-2.11-2.11 7.41-7.4L8.5 9.96l-.72.7-1.45-1.41v2.86l-.7.7-3.52-3.56.7-.7h2.81l-1.4-1.41 3.56-3.56a2.976 2.976 0 0 1 4.22 0L9.89 5.74l1.41 1.4-.71.71 1.79 1.78 1.82-1.88c-.14-.33-.2-.75-.2-1.12a3.49 3.49 0 0 1 3.5-3.52c.59 0 1.11.14 1.58.42L16.41 6.2l1.5 1.5 2.67-2.67c.28.47.42.97.42 1.6 0 1.92-1.55 3.47-3.5 3.47"/></svg><span style="margin-left:8px">远程接管</span></div><div style="padding-left:7px;flex:1"><svg class="ic" viewBox="0 0 24 24" width="18" height="18" style=""><path fill="#bbbdc4" d="M12 4c2.1 0 4.1.8 5.6 2.3 3.1 3.1 3.1 8.2 0 11.3-1.8 1.9-4.3 2.6-6.7 2.3l.5-2c1.7.2 3.5-.4 4.8-1.7 2.3-2.3 2.3-6.1 0-8.5C15.1 6.6 13.5 6 12 6v4.6l-5-5 5-5zM6.3 17.6C3.7 15 3.3 11 5.1 7.9l1.5 1.5c-1.1 2.2-.7 5 1.2 6.8q.75.75 1.8 1.2l-.6 2q-1.5-.6-2.7-1.8"/></svg><span style="margin-left:9px">重启</span></div></div>
</div>
<div class="row" style="top:368px;height:72px">
<svg class="ic" viewBox="0 0 24 24" width="24" height="24" style="position:absolute;left:12px;top:23px"><path fill="#4263eb" d="M8.59 16.58 13.17 12 8.59 7.41 10 6l6 6-6 6z"/></svg>
<div class="cb" style="left:64px;top:26px"></div>
<div class="cell lnk" style="left:112px">aabbc</div>
<div class="cell" style="left:349px">-</div>
<div class="cell" style="left:581px"><div class="sm">tajIO</div><div class="sm2">linux (ubuntu)</div></div>
<div class="abs" style="left:861px;top:24px;white-space:nowrap"><div class="ip">172.26.157.23</div></div>
<div class="bar" style="left:1165px;width:118px;top:31px"><i style="width:11.0%"></i></div>
<div class="pct" style="left:1283px;width:48px;top:27px;line-height:16px">11.0%</div>
<div class="bar" style="left:1434px;width:119px;top:31px"><i style="width:3.6%"></i></div>
<div class="pct" style="left:1553px;width:48px;top:27px;line-height:16px">3.6%</div>
<div class="cell" style="left:1704px;padding-bottom:0px">1天前</div>
<div class="bgrp" style="left:1920px;top:20px;width:164px;height:31px;font-size:12px;letter-spacing:1.07px;background:#fff;color:#c3c5cb;border-color:#e7e9ee"><div style="width:93px;padding-left:7px"><svg class="ic" viewBox="0 0 24 24" width="18" height="18" style=""><path fill="#bbbdc4" d="m13.78 15.3 6 6 2.11-2.16-6-6zm3.72-5.2c-.39 0-.81-.05-1.14-.19L4.97 21.25l-2.11-2.11 7.41-7.4L8.5 9.96l-.72.7-1.45-1.41v2.86l-.7.7-3.52-3.56.7-.7h2.81l-1.4-1.41 3.56-3.56a2.976 2.976 0 0 1 4.22 0L9.89 5.74l1.41 1.4-.71.71 1.79 1.78 1.82-1.88c-.14-.33-.2-.75-.2-1.12a3.49 3.49 0 0 1 3.5-3.52c.59 0 1.11.14 1.58.42L16.41 6.2l1.5 1.5 2.67-2.67c.28.47.42.97.42 1.6 0 1.92-1.55 3.47-3.5 3.47"/></svg><span style="margin-left:8px">远程接管</span></div><div style="padding-left:7px;flex:1"><svg class="ic" viewBox="0 0 24 24" width="18" height="18" style=""><path fill="#bbbdc4" d="M12 4c2.1 0 4.1.8 5.6 2.3 3.1 3.1 3.1 8.2 0 11.3-1.8 1.9-4.3 2.6-6.7 2.3l.5-2c1.7.2 3.5-.4 4.8-1.7 2.3-2.3 2.3-6.1 0-8.5C15.1 6.6 13.5 6 12 6v4.6l-5-5 5-5zM6.3 17.6C3.7 15 3.3 11 5.1 7.9l1.5 1.5c-1.1 2.2-.7 5 1.2 6.8q.75.75 1.8 1.2l-.6 2q-1.5-.6-2.7-1.8"/></svg><span style="margin-left:9px">重启</span></div></div>
</div>
<div class="row" style="top:440px;height:92px">
<svg class="ic" viewBox="0 0 24 24" width="24" height="24" style="position:absolute;left:12px;top:34px"><path fill="#4263eb" d="M8.59 16.58 13.17 12 8.59 7.41 10 6l6 6-6 6z"/></svg>
<div class="cb" style="left:64px;top:37px"></div>
<div class="cell lnk" style="left:112px">pyygly02</div>
<div class="cell" style="left:349px">-</div>
<div class="cell" style="left:581px"><div class="sm">orangepi5plus</div><div class="sm2">linux (ubuntu)</div></div>
<div class="abs" style="left:861px;top:15px;white-space:nowrap"><div class="ip">10.42.0.3</div><div class="ip">192.168.2.117</div><div class="ip">192.168.2.179</div></div>
<div class="bar" style="left:1165px;width:118px;top:42px"><i style="width:1.6%"></i></div>
<div class="pct" style="left:1283px;width:48px;top:38px;line-height:16px">1.6%</div>
<div class="bar" style="left:1434px;width:119px;top:42px"><i style="width:22.4%"></i></div>
<div class="pct" style="left:1553px;width:48px;top:38px;line-height:16px">22.4%</div>
<div class="cell" style="left:1704px;padding-bottom:0px">1天前</div>
<div class="bgrp" style="left:1920px;top:30px;width:164px;height:31px;font-size:12px;letter-spacing:1.07px;background:#fff;color:#c3c5cb;border-color:#e7e9ee"><div style="width:93px;padding-left:7px"><svg class="ic" viewBox="0 0 24 24" width="18" height="18" style=""><path fill="#bbbdc4" d="m13.78 15.3 6 6 2.11-2.16-6-6zm3.72-5.2c-.39 0-.81-.05-1.14-.19L4.97 21.25l-2.11-2.11 7.41-7.4L8.5 9.96l-.72.7-1.45-1.41v2.86l-.7.7-3.52-3.56.7-.7h2.81l-1.4-1.41 3.56-3.56a2.976 2.976 0 0 1 4.22 0L9.89 5.74l1.41 1.4-.71.71 1.79 1.78 1.82-1.88c-.14-.33-.2-.75-.2-1.12a3.49 3.49 0 0 1 3.5-3.52c.59 0 1.11.14 1.58.42L16.41 6.2l1.5 1.5 2.67-2.67c.28.47.42.97.42 1.6 0 1.92-1.55 3.47-3.5 3.47"/></svg><span style="margin-left:8px">远程接管</span></div><div style="padding-left:7px;flex:1"><svg class="ic" viewBox="0 0 24 24" width="18" height="18" style=""><path fill="#bbbdc4" d="M12 4c2.1 0 4.1.8 5.6 2.3 3.1 3.1 3.1 8.2 0 11.3-1.8 1.9-4.3 2.6-6.7 2.3l.5-2c1.7.2 3.5-.4 4.8-1.7 2.3-2.3 2.3-6.1 0-8.5C15.1 6.6 13.5 6 12 6v4.6l-5-5 5-5zM6.3 17.6C3.7 15 3.3 11 5.1 7.9l1.5 1.5c-1.1 2.2-.7 5 1.2 6.8q.75.75 1.8 1.2l-.6 2q-1.5-.6-2.7-1.8"/></svg><span style="margin-left:9px">重启</span></div></div>
</div>
<div class="row" style="top:532px;height:73px">
<svg class="ic" viewBox="0 0 24 24" width="24" height="24" style="position:absolute;left:12px;top:24px"><path fill="#4263eb" d="M8.59 16.58 13.17 12 8.59 7.41 10 6l6 6-6 6z"/></svg>
<div class="cb" style="left:64px;top:27px"></div>
<div class="cell lnk" style="left:112px">pyygly01</div>
<div class="cell lnk" style="left:349px">default1</div>
<div class="cell" style="left:581px"><div class="sm">orangepi5plus</div><div class="sm2">linux (ubuntu)</div></div>
<div class="abs" style="left:861px;top:15px;white-space:nowrap"><div class="ip">10.42.0.3</div><div class="ip">192.168.3.22</div></div>
<div class="bar" style="left:1165px;width:118px;top:32px"><i style="width:26.3%"></i></div>
<div class="pct" style="left:1283px;width:48px;top:28px;line-height:16px">26.3%</div>
<div class="bar" style="left:1434px;width:119px;top:32px"><i style="width:17.4%"></i></div>
<div class="pct" style="left:1553px;width:48px;top:28px;line-height:16px">17.4%</div>
<div class="cell" style="left:1704px;padding-bottom:0px">1天前</div>
<div class="bgrp" style="left:1920px;top:21px;width:164px;height:31px;font-size:12px;letter-spacing:1.07px;background:#fff;color:#c3c5cb;border-color:#e7e9ee"><div style="width:93px;padding-left:7px"><svg class="ic" viewBox="0 0 24 24" width="18" height="18" style=""><path fill="#bbbdc4" d="m13.78 15.3 6 6 2.11-2.16-6-6zm3.72-5.2c-.39 0-.81-.05-1.14-.19L4.97 21.25l-2.11-2.11 7.41-7.4L8.5 9.96l-.72.7-1.45-1.41v2.86l-.7.7-3.52-3.56.7-.7h2.81l-1.4-1.41 3.56-3.56a2.976 2.976 0 0 1 4.22 0L9.89 5.74l1.41 1.4-.71.71 1.79 1.78 1.82-1.88c-.14-.33-.2-.75-.2-1.12a3.49 3.49 0 0 1 3.5-3.52c.59 0 1.11.14 1.58.42L16.41 6.2l1.5 1.5 2.67-2.67c.28.47.42.97.42 1.6 0 1.92-1.55 3.47-3.5 3.47"/></svg><span style="margin-left:8px">远程接管</span></div><div style="padding-left:7px;flex:1"><svg class="ic" viewBox="0 0 24 24" width="18" height="18" style=""><path fill="#bbbdc4" d="M12 4c2.1 0 4.1.8 5.6 2.3 3.1 3.1 3.1 8.2 0 11.3-1.8 1.9-4.3 2.6-6.7 2.3l.5-2c1.7.2 3.5-.4 4.8-1.7 2.3-2.3 2.3-6.1 0-8.5C15.1 6.6 13.5 6 12 6v4.6l-5-5 5-5zM6.3 17.6C3.7 15 3.3 11 5.1 7.9l1.5 1.5c-1.1 2.2-.7 5 1.2 6.8q.75.75 1.8 1.2l-.6 2q-1.5-.6-2.7-1.8"/></svg><span style="margin-left:9px">重启</span></div></div>
</div>
<div class="row" style="top:605px;height:72px">
<svg class="ic" viewBox="0 0 24 24" width="24" height="24" style="position:absolute;left:12px;top:23px"><path fill="#4263eb" d="M8.59 16.58 13.17 12 8.59 7.41 10 6l6 6-6 6z"/></svg>
<div class="cb" style="left:64px;top:26px"></div>
<div class="cell lnk" style="left:112px">123456</div>
<div class="cell" style="left:349px">-</div>
<div class="cell" style="left:581px"><div class="sm">orangepi5plus</div><div class="sm2">linux (ubuntu)</div></div>
<div class="abs" style="left:861px;top:25px;white-space:nowrap"><div class="ip">192.168.3.56</div></div>
<div class="bar" style="left:1165px;width:118px;top:31px"><i style="width:14.4%"></i></div>
<div class="pct" style="left:1283px;width:48px;top:27px;line-height:16px">14.4%</div>
<div class="bar" style="left:1434px;width:119px;top:31px"><i style="width:18.0%"></i></div>
<div class="pct" style="left:1553px;width:48px;top:27px;line-height:16px">18.0%</div>
<div class="cell" style="left:1704px;padding-bottom:0px">3分钟前</div>
<div class="bgrp" style="left:1920px;top:20px;width:164px;height:31px;font-size:12px;letter-spacing:1.07px;background:#fff;color:#c3c5cb;border-color:#e7e9ee"><div style="width:93px;padding-left:7px"><svg class="ic" viewBox="0 0 24 24" width="18" height="18" style=""><path fill="#bbbdc4" d="m13.78 15.3 6 6 2.11-2.16-6-6zm3.72-5.2c-.39 0-.81-.05-1.14-.19L4.97 21.25l-2.11-2.11 7.41-7.4L8.5 9.96l-.72.7-1.45-1.41v2.86l-.7.7-3.52-3.56.7-.7h2.81l-1.4-1.41 3.56-3.56a2.976 2.976 0 0 1 4.22 0L9.89 5.74l1.41 1.4-.71.71 1.79 1.78 1.82-1.88c-.14-.33-.2-.75-.2-1.12a3.49 3.49 0 0 1 3.5-3.52c.59 0 1.11.14 1.58.42L16.41 6.2l1.5 1.5 2.67-2.67c.28.47.42.97.42 1.6 0 1.92-1.55 3.47-3.5 3.47"/></svg><span style="margin-left:8px">远程接管</span></div><div style="padding-left:7px;flex:1"><svg class="ic" viewBox="0 0 24 24" width="18" height="18" style=""><path fill="#bbbdc4" d="M12 4c2.1 0 4.1.8 5.6 2.3 3.1 3.1 3.1 8.2 0 11.3-1.8 1.9-4.3 2.6-6.7 2.3l.5-2c1.7.2 3.5-.4 4.8-1.7 2.3-2.3 2.3-6.1 0-8.5C15.1 6.6 13.5 6 12 6v4.6l-5-5 5-5zM6.3 17.6C3.7 15 3.3 11 5.1 7.9l1.5 1.5c-1.1 2.2-.7 5 1.2 6.8q.75.75 1.8 1.2l-.6 2q-1.5-.6-2.7-1.8"/></svg><span style="margin-left:9px">重启</span></div></div>
</div>
<div class="row" style="top:677px;height:54px">
<svg class="ic" viewBox="0 0 24 24" width="24" height="24" style="position:absolute;left:12px;top:15px"><path fill="#4263eb" d="M8.59 16.58 13.17 12 8.59 7.41 10 6l6 6-6 6z"/></svg>
<div class="cb" style="left:64px;top:18px"></div>
<div class="cell lnk" style="left:112px">testst</div>
<div class="cell" style="left:349px">-</div>
<div class="cell" style="left:581px">-</div>
<div class="cell" style="left:1164px">-</div>
<div class="cell" style="left:1434px">-</div>
<div class="cell" style="left:1704px;padding-bottom:2px">-</div>
<div class="inst" style="top:11px"><span style="margin-left:7.5px"><svg class="ic" viewBox="0 0 24 24" width="19" height="19" style=""><path fill="#fff" d="M5 20h14v-2H5m14-9h-4V3H9v6H5l7 7z"/></svg></span><span style="margin-left:7px"><span style="font-weight:500">安装</span>Agent</span></div>
</div>
<div class="row last" style="top:731px;height:55px">
<svg class="ic" viewBox="0 0 24 24" width="24" height="24" style="position:absolute;left:12px;top:15px"><path fill="#4263eb" d="M8.59 16.58 13.17 12 8.59 7.41 10 6l6 6-6 6z"/></svg>
<div class="cb" style="left:64px;top:18px"></div>
<div class="cell lnk" style="left:112px">215325</div>
<div class="cell" style="left:349px">-</div>
<div class="cell" style="left:581px">-</div>
<div class="cell" style="left:1164px">-</div>
<div class="cell" style="left:1434px">-</div>
<div class="cell" style="left:1704px;padding-bottom:2px">-</div>
<div class="inst" style="top:12px"><span style="margin-left:7.5px"><svg class="ic" viewBox="0 0 24 24" width="19" height="19" style=""><path fill="#fff" d="M5 20h14v-2H5m14-9h-4V3H9v6H5l7 7z"/></svg></span><span style="margin-left:7px"><span style="font-weight:500">安装</span>Agent</span></div>
</div>
</div>
<div id="foot"><span style="left:40px">每页行数</span><span style="left:113px">10</span>
<svg class="ic" viewBox="0 0 24 24" width="24" height="24" style="position:absolute;left:129px;top:15px"><path fill="#4263eb" d="m7 10 5 5 5-5z"/></svg>
<span style="left:185px;letter-spacing:.3px">1–10 of 45</span>
<svg class="ic" viewBox="0 0 24 24" width="24" height="24" style="position:absolute;left:282px;top:13.5px"><path fill="#c3c5cc" d="M15.41 16.58 10.83 12l4.58-4.59L14 6l-6 6 6 6z"/></svg>
<svg class="ic" viewBox="0 0 24 24" width="24" height="24" style="position:absolute;left:322px;top:13.5px"><path fill="#1b1d27" d="M8.59 16.58 13.17 12 8.59 7.41 10 6l6 6-6 6z"/></svg>
</div>
<div id="frame"></div>
</body></html>
